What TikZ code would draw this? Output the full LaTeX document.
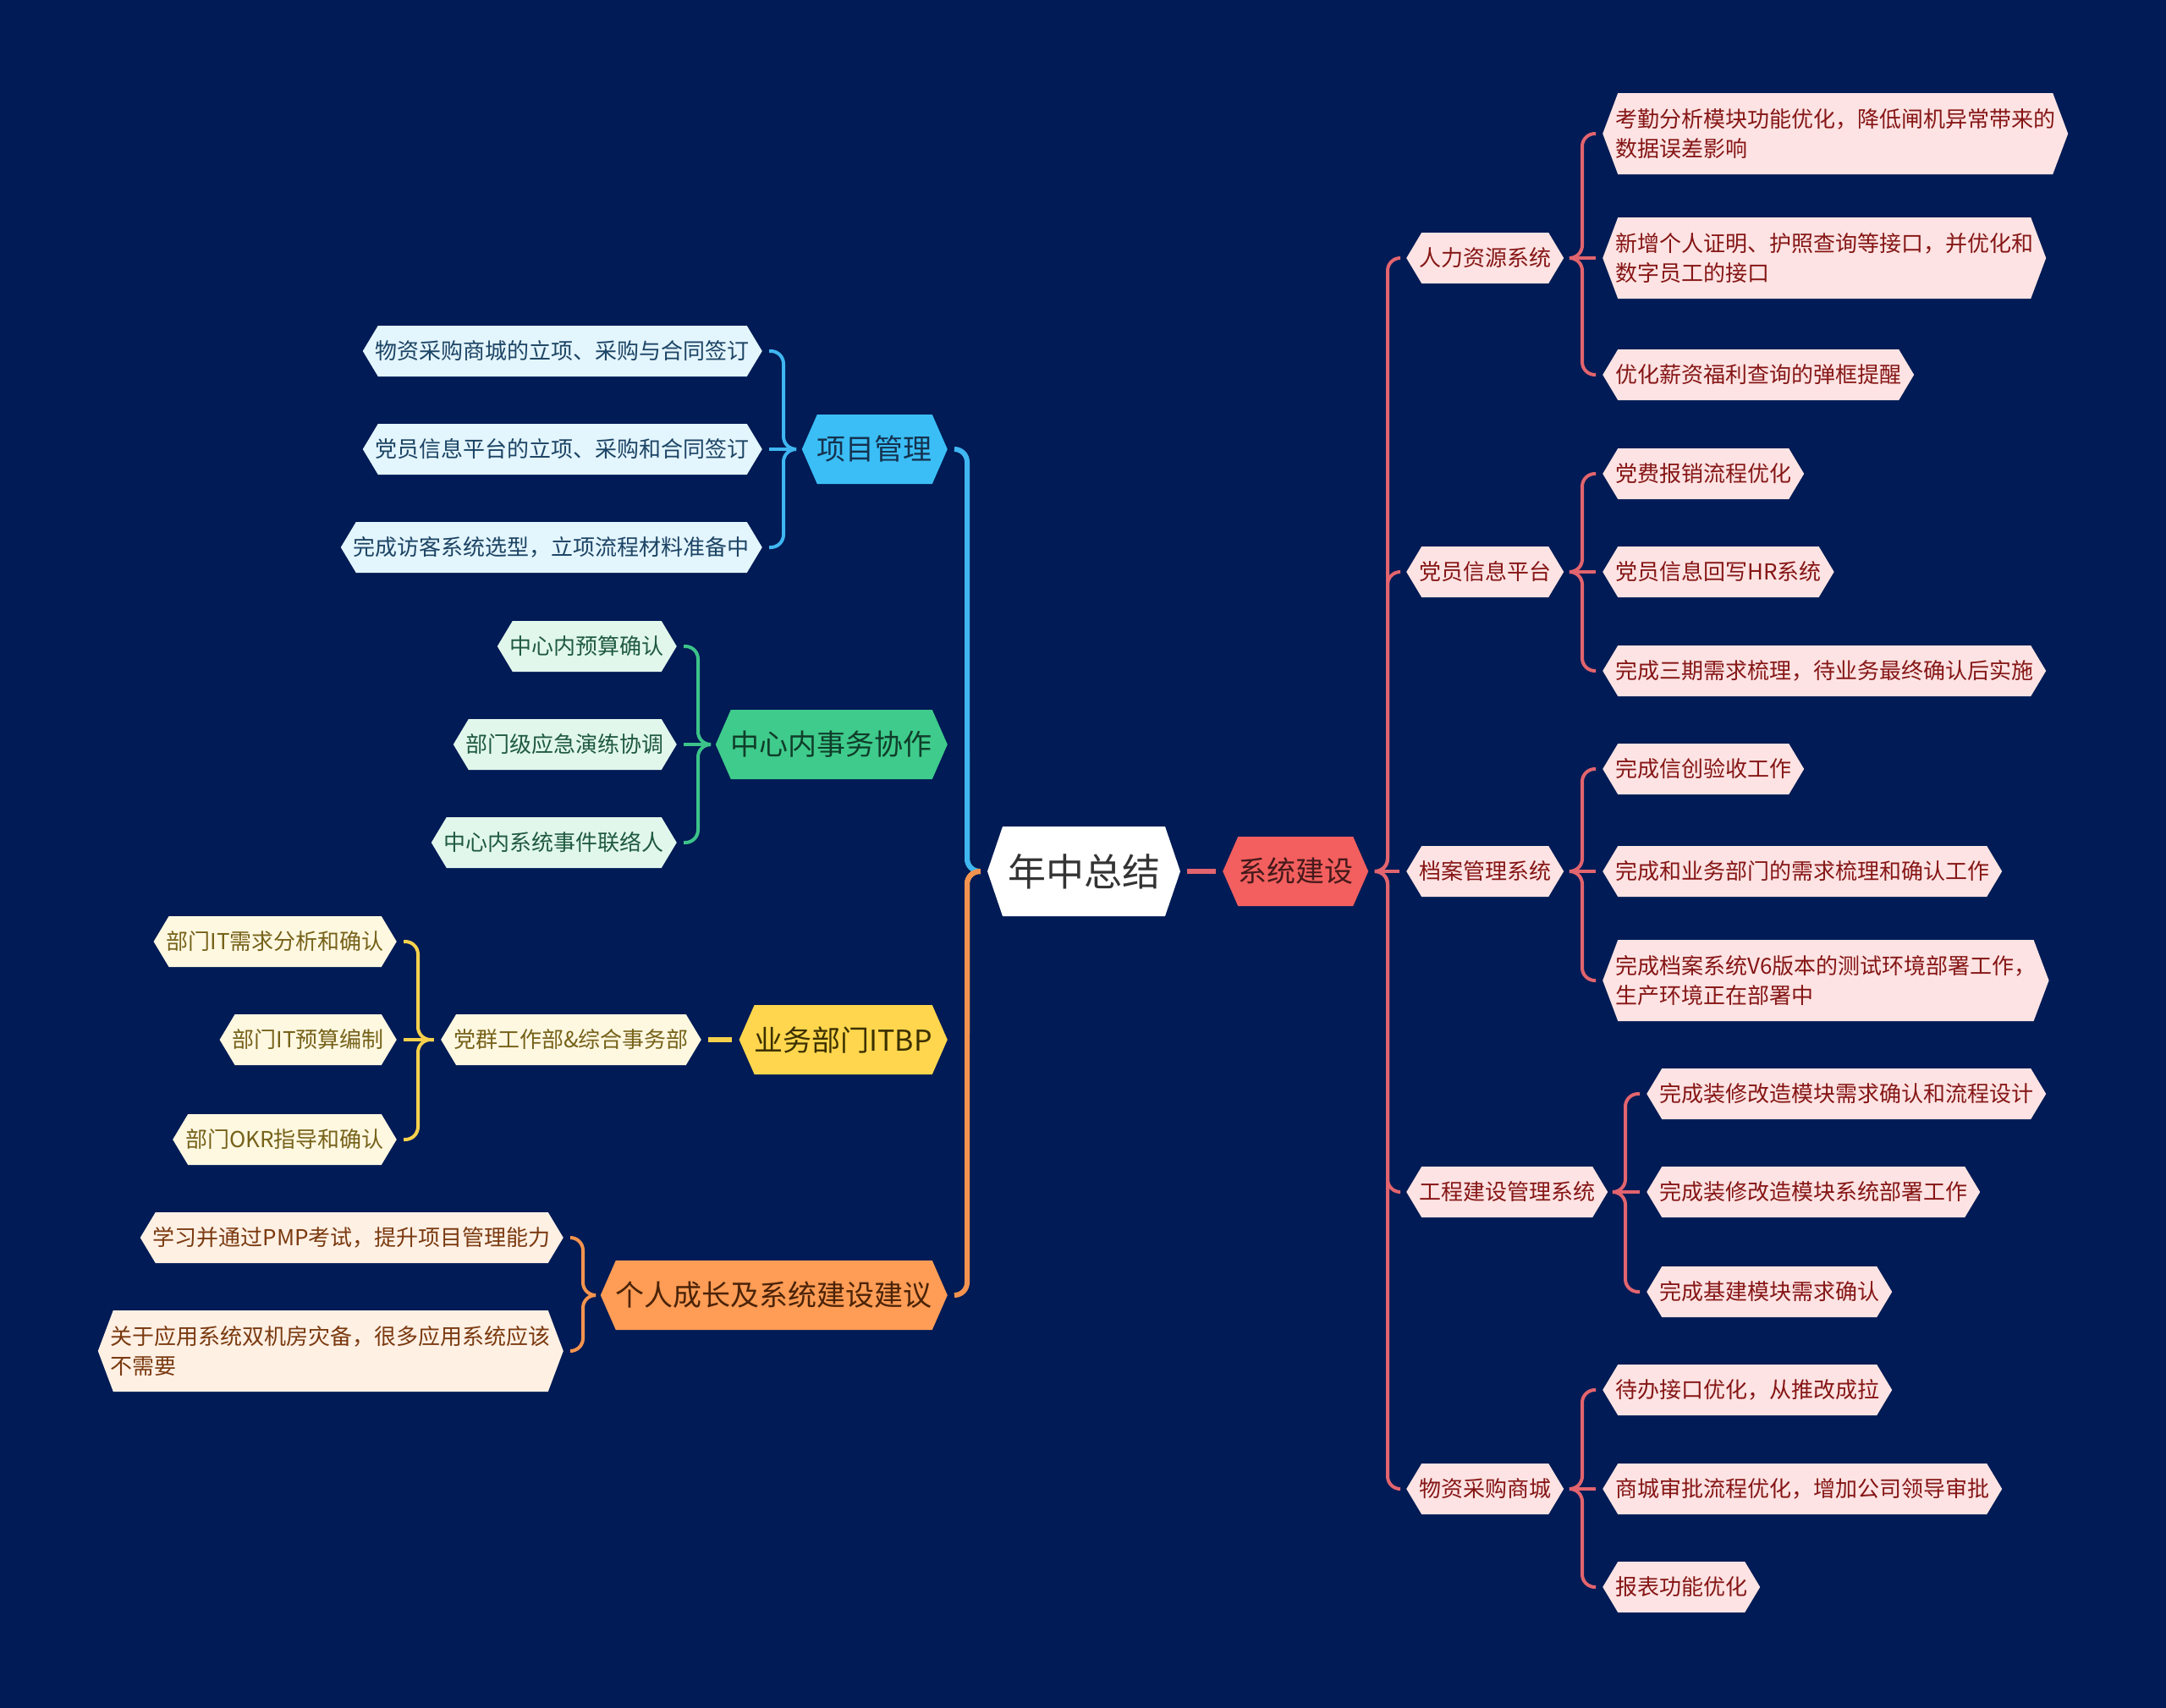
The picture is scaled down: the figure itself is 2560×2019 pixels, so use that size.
\documentclass[tikz,border=0pt]{standalone}
\usepackage{fontspec}
\setmainfont{Noto Sans CJK SC}
\usetikzlibrary{shapes.symbols}

\definecolor{bgblue}{HTML}{001B55}
\definecolor{rootink}{HTML}{333333}
\definecolor{sysfill}{HTML}{F25F5E}
\definecolor{sysink}{HTML}{45191B}
\definecolor{sysline}{HTML}{E2646E}
\definecolor{sysleaf}{HTML}{FDE3E3}
\definecolor{sysleafink}{HTML}{861616}
\definecolor{pjfill}{HTML}{3BBEF6}
\definecolor{pjink}{HTML}{15324F}
\definecolor{pjline}{HTML}{3FB6F2}
\definecolor{pjleaf}{HTML}{E3F5FD}
\definecolor{pjleafink}{HTML}{1C4464}
\definecolor{cofill}{HTML}{3FCB8B}
\definecolor{coink}{HTML}{0F3D2A}
\definecolor{coline}{HTML}{3CC38A}
\definecolor{coleaf}{HTML}{E1F7EC}
\definecolor{coleafink}{HTML}{1F5A40}
\definecolor{itfill}{HTML}{FFD64D}
\definecolor{itink}{HTML}{3B3000}
\definecolor{itline}{HTML}{F7D14C}
\definecolor{itleaf}{HTML}{FFF8E1}
\definecolor{itleafink}{HTML}{76621A}
\definecolor{grfill}{HTML}{FF9C55}
\definecolor{grink}{HTML}{4A2308}
\definecolor{grline}{HTML}{F4934F}
\definecolor{grleaf}{HTML}{FFF0E4}
\definecolor{grleafink}{HTML}{7A3A10}

\tikzset{
	hex/.style={signal, signal to=east and west, inner ysep=0pt},
	rootnode/.style={hex, fill=white, text=rootink, minimum height=106pt, signal pointer angle=142.5, inner xsep=6pt, font=\fontsize{45}{54}\selectfont},
	topic/.style={hex, minimum height=82pt, signal pointer angle=132.6, inner xsep=0pt, font=\fontsize{34}{40}\selectfont},
	leaf/.style={hex, minimum height=60pt, signal pointer angle=118.1, inner xsep=-3pt, font=\fontsize{26}{35}\selectfont},
	twoline/.style={minimum height=96pt, signal pointer angle=138.9, align=left},
	link/.style={line width=6pt, rounded corners=15pt, shorten <=8pt, shorten >=8pt},
	sublink/.style={link, line width=4pt},
	sysleafnode/.style={leaf, fill=sysleaf, text=sysleafink, anchor=west},
	pjleafnode/.style={leaf, fill=pjleaf, text=pjleafink, anchor=east},
	coleafnode/.style={leaf, fill=coleaf, text=coleafink, anchor=east},
	itleafnode/.style={leaf, fill=itleaf, text=itleafink, anchor=east},
	grleafnode/.style={leaf, fill=grleaf, text=grleafink, anchor=east}
}

\begin{document}
\begin{tikzpicture}[x=1pt, y=-1pt]
	\fill[bgblue] (0,0) rectangle (2560,2019);
	\useasboundingbox (0,0) rectangle (2560,2019);

	\node[rootnode] (root) at (1281,1030) {年中总结};

	\node[topic, fill=sysfill, text=sysink, anchor=west] (sys) at (1445,1030) {系统建设};
	\node[sysleafnode] (r1) at (1662,305) {人力资源系统};
	\node[sysleafnode] (r2) at (1662,676) {党员信息平台};
	\node[sysleafnode] (r3) at (1662,1030) {档案管理系统};
	\node[sysleafnode] (r4) at (1662,1409) {工程建设管理系统};
	\node[sysleafnode] (r5) at (1662,1760) {物资采购商城};

	\node[sysleafnode, twoline] (r11) at (1894,158) {考勤分析模块功能优化，降低闸机异常带来的\\数据误差影响};
	\node[sysleafnode, twoline] (r12) at (1894,305) {新增个人证明、护照查询等接口，并优化和\\数字员工的接口};
	\node[sysleafnode] (r13) at (1894,443) {优化薪资福利查询的弹框提醒};
	\node[sysleafnode] (r21) at (1894,560) {党费报销流程优化};
	\node[sysleafnode] (r22) at (1894,676) {党员信息回写HR系统};
	\node[sysleafnode] (r23) at (1894,793) {完成三期需求梳理，待业务最终确认后实施};
	\node[sysleafnode] (r31) at (1894,909) {完成信创验收工作};
	\node[sysleafnode] (r32) at (1894,1030) {完成和业务部门的需求梳理和确认工作};
	\node[sysleafnode, twoline] (r33) at (1894,1159) {完成档案系统V6版本的测试环境部署工作，\\生产环境正在部署中};
	\node[sysleafnode] (r41) at (1946,1293) {完成装修改造模块需求确认和流程设计};
	\node[sysleafnode] (r42) at (1946,1409) {完成装修改造模块系统部署工作};
	\node[sysleafnode] (r43) at (1946,1527) {完成基建模块需求确认};
	\node[sysleafnode] (r51) at (1894,1643) {待办接口优化，从推改成拉};
	\node[sysleafnode] (r52) at (1894,1760) {商城审批流程优化，增加公司领导审批};
	\node[sysleafnode] (r53) at (1894,1876) {报表功能优化};

	\node[topic, fill=pjfill, text=pjink, anchor=east] (p) at (1120,531) {项目管理};
	\node[pjleafnode] (p1) at (901,415) {物资采购商城的立项、采购与合同签订};
	\node[pjleafnode] (p2) at (901,531) {党员信息平台的立项、采购和合同签订};
	\node[pjleafnode] (p3) at (901,647) {完成访客系统选型，立项流程材料准备中};

	\node[topic, fill=cofill, text=coink, anchor=east] (c) at (1120,880) {中心内事务协作};
	\node[coleafnode] (c1) at (800,764) {中心内预算确认};
	\node[coleafnode] (c2) at (800,880) {部门级应急演练协调};
	\node[coleafnode] (c3) at (800,996) {中心内系统事件联络人};

	\node[topic, fill=itfill, text=itink, anchor=east] (b) at (1120,1229) {业务部门ITBP};
	\node[itleafnode] (b0) at (829,1229) {党群工作部\&综合事务部};
	\node[itleafnode] (b1) at (469,1113) {部门IT需求分析和确认};
	\node[itleafnode] (b2) at (469,1229) {部门IT预算编制};
	\node[itleafnode] (b3) at (469,1347) {部门OKR指导和确认};

	\node[topic, fill=grfill, text=grink, anchor=east] (g) at (1120,1531) {个人成长及系统建设建议};
	\node[grleafnode] (g1) at (666,1463) {学习并通过PMP考试，提升项目管理能力};
	\node[grleafnode, twoline] (g2) at (666,1597) {关于应用系统双机房灾备，很多应用系统应该\\不需要};

	\coordinate (bL) at (1143,0);
	\coordinate (bR) at (1640,0);
	\coordinate (bP) at (926,0);
	\coordinate (bC) at (825,0);
	\coordinate (bB) at (494,0);
	\coordinate (bG) at (689,0);
	\coordinate (bRa) at (1870,0);
	\coordinate (bRb) at (1921,0);

	\draw[link, coline] (root.west) -- (root.west -| bL) -- (c.east -| bL);
	\draw[link, itline] (root.west) -- (root.west -| bL) -- (b.east -| bL);
	\draw[link, pjline] (root.west) -- (root.west -| bL) |- (p.east);
	\draw[link, grline] (root.west) -- (root.west -| bL) |- (g.east);
	\draw[link, sysline] (root.east) -- (sys.west);

	\draw[sublink, pjline] (p.west) -- (p.west -| bP) |- (p1.east);
	\draw[sublink, pjline] (p.west) -- (p2.east);
	\draw[sublink, pjline] (p.west) -- (p.west -| bP) |- (p3.east);
	\draw[sublink, coline] (c.west) -- (c.west -| bC) |- (c1.east);
	\draw[sublink, coline] (c.west) -- (c2.east);
	\draw[sublink, coline] (c.west) -- (c.west -| bC) |- (c3.east);
	\draw[link, itline] (b.west) -- (b0.east);
	\draw[sublink, itline] (b0.west) -- (b0.west -| bB) |- (b1.east);
	\draw[sublink, itline] (b0.west) -- (b2.east);
	\draw[sublink, itline] (b0.west) -- (b0.west -| bB) |- (b3.east);
	\draw[sublink, grline] (g.west) -- (g.west -| bG) |- (g1.east);
	\draw[sublink, grline] (g.west) -- (g.west -| bG) |- (g2.east);

	\draw[sublink, sysline] (sys.east) -- (sys.east -| bR) |- (r1.west);
	\draw[sublink, sysline] (sys.east) -- (sys.east -| bR) |- (r2.west);
	\draw[sublink, sysline] (sys.east) -- (r3.west);
	\draw[sublink, sysline] (sys.east) -- (sys.east -| bR) |- (r4.west);
	\draw[sublink, sysline] (sys.east) -- (sys.east -| bR) |- (r5.west);

	\draw[sublink, sysline] (r1.east) -- (r1.east -| bRa) |- (r11.west);
	\draw[sublink, sysline] (r1.east) -- (r12.west);
	\draw[sublink, sysline] (r1.east) -- (r1.east -| bRa) |- (r13.west);
	\draw[sublink, sysline] (r2.east) -- (r2.east -| bRa) |- (r21.west);
	\draw[sublink, sysline] (r2.east) -- (r22.west);
	\draw[sublink, sysline] (r2.east) -- (r2.east -| bRa) |- (r23.west);
	\draw[sublink, sysline] (r3.east) -- (r3.east -| bRa) |- (r31.west);
	\draw[sublink, sysline] (r3.east) -- (r32.west);
	\draw[sublink, sysline] (r3.east) -- (r3.east -| bRa) |- (r33.west);
	\draw[sublink, sysline] (r4.east) -- (r4.east -| bRb) |- (r41.west);
	\draw[sublink, sysline] (r4.east) -- (r42.west);
	\draw[sublink, sysline] (r4.east) -- (r4.east -| bRb) |- (r43.west);
	\draw[sublink, sysline] (r5.east) -- (r5.east -| bRa) |- (r51.west);
	\draw[sublink, sysline] (r5.east) -- (r52.west);
	\draw[sublink, sysline] (r5.east) -- (r5.east -| bRa) |- (r53.west);
\end{tikzpicture}
\end{document}
